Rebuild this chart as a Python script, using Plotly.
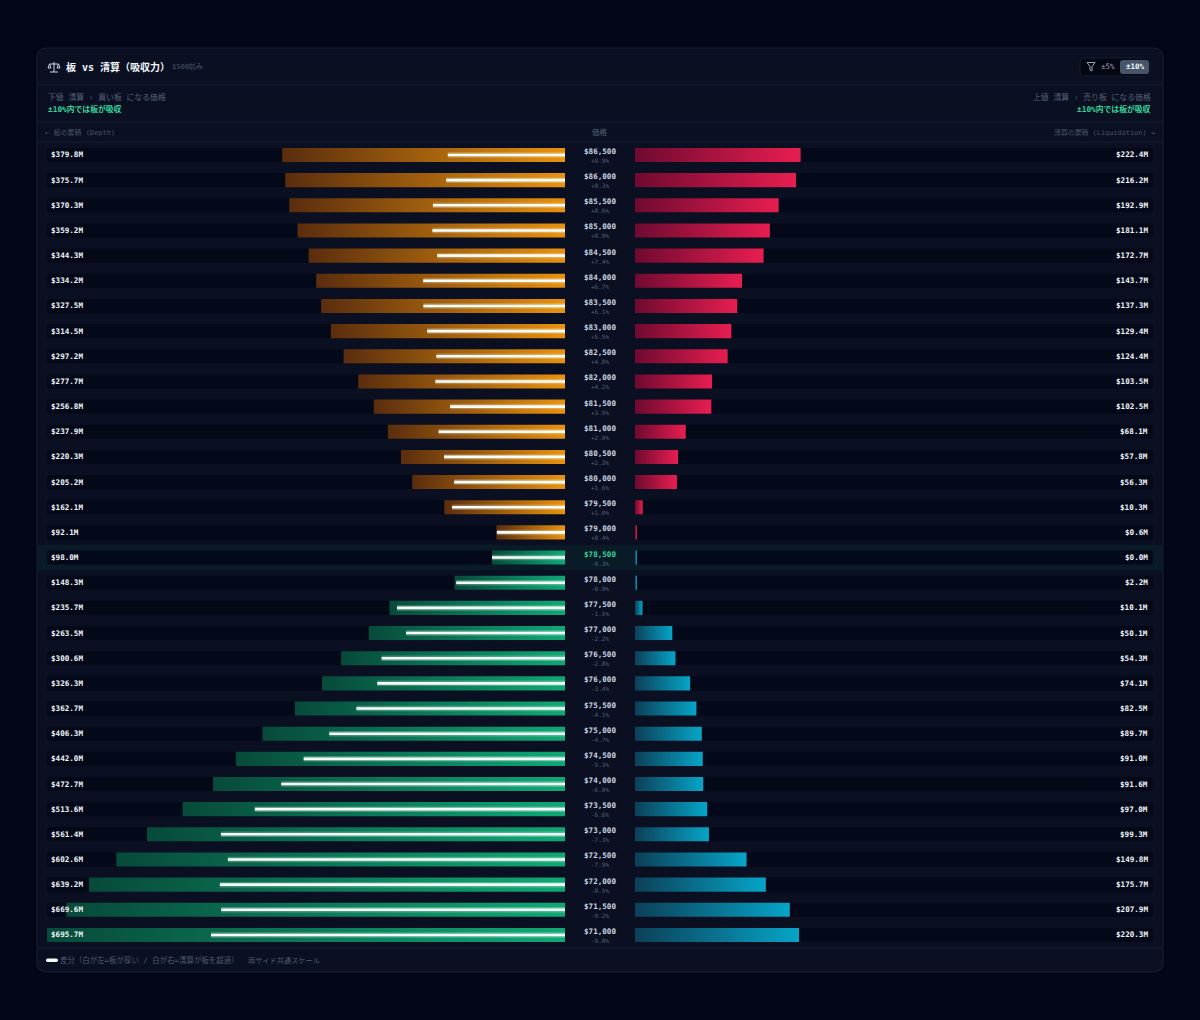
import plotly.graph_objects as go

# data ($M cumulative per price level)
prices = [86500, 86000, 85500, 85000, 84500, 84000, 83500, 83000, 82500, 82000, 81500,
          81000, 80500, 80000, 79500, 79000, 78500, 78000, 77500, 77000, 76500, 76000,
          75500, 75000, 74500, 74000, 73500, 73000, 72500, 72000, 71500, 71000]
pct = ["+9.9%", "+9.3%", "+8.6%", "+8.0%", "+7.4%", "+6.7%", "+6.1%", "+5.5%", "+4.8%", "+4.2%", "+3.5%",
       "+2.9%", "+2.3%", "+1.6%", "+1.0%", "+0.4%", "-0.3%", "-0.9%", "-1.5%", "-2.2%", "-2.8%", "-3.4%",
       "-4.1%", "-4.7%", "-5.3%", "-6.0%", "-6.6%", "-7.3%", "-7.9%", "-8.5%", "-9.2%", "-9.8%"]
depth = [379.8, 375.7, 370.3, 359.2, 344.3, 334.2, 327.5, 314.5, 297.2, 277.7, 256.8,
         237.9, 220.3, 205.2, 162.1, 92.1, 98.0, 148.3, 235.7, 263.5, 300.6, 326.3,
         362.7, 406.3, 442.0, 472.7, 513.6, 561.4, 602.6, 639.2, 669.6, 695.7]
liq = [222.4, 216.2, 192.9, 181.1, 172.7, 143.7, 137.3, 129.4, 124.4, 103.5, 102.5,
       68.1, 57.8, 56.3, 10.3, 0.6, 0.0, 2.2, 10.1, 50.1, 54.3, 74.1,
       82.5, 89.7, 91.0, 91.6, 97.0, 99.3, 149.8, 175.7, 207.9, 220.3]
current_price = 78500

W, H = 1200, 1020
MONO = "DejaVu Sans Mono, Noto Sans CJK JP, monospace"
CJK = "Noto Sans CJK JP, DejaVu Sans Mono, sans-serif"
PAGE = "#020617"
PANEL = "#0a1022"
TRACK = "#040919"
LINE = "#151d30"
GREY = "#566178"
GREEN_TXT = "#34d399"

ROW_PX = 25.16
TOP_PX = 155 - ROW_PX / 2
scale_max = max(depth)
half_h = 140  # half bar height in price units
min_w = 2.7   # thin bars still show about 2px


def px(x):
    return x / W


def py(y):
    return 1 - y / H


def round_rect(x0, y0, x1, y1, r):
    a, b, c, d = px(x0), px(x1), py(y0), py(y1)
    rx, ry = r / W, r / H
    return (f"M{a + rx},{c} L{b - rx},{c} Q{b},{c} {b},{c - ry} L{b},{d + ry} Q{b},{d} {b - rx},{d} "
            f"L{a + rx},{d} Q{a},{d} {a},{d + ry} L{a},{c - ry} Q{a},{c} {a + rx},{c} Z")


def box(x0, y0, x1, y1, r, fill, line=None):
    return dict(type="path", xref="paper", yref="paper", path=round_rect(x0, y0, x1, y1, r),
                fillcolor=fill, line=dict(color=line or fill, width=1 if line else 0), layer="below")


def hline(y, x0=38, x1=1162):
    return dict(type="line", xref="paper", yref="paper", x0=px(x0), x1=px(x1), y0=py(y), y1=py(y),
                line=dict(color=LINE, width=1), layer="below")


def icon(points, color, width=1):
    d = "M" + " L".join(f"{px(x)},{py(y)}" for x, y in points)
    return dict(type="path", xref="paper", yref="paper", path=d, line=dict(color=color, width=width), layer="above")


def note(x, y, text, size, color, anchor="left", family=MONO):
    return dict(xref="paper", yref="paper", x=px(x), y=py(y), text=text, showarrow=False, xanchor=anchor,
                yanchor="middle", font=dict(family=family, size=size, color=color))


def row_note(axis, x, price, text, size, color, anchor, shift=0, xshift=0):
    return dict(xref=axis, yref="y", x=x, y=price, text=text, showarrow=False, xanchor=anchor, yanchor="middle",
                yshift=shift, xshift=xshift, font=dict(family=MONO, size=size, color=color))


fig = go.Figure()

# background tracks
for axis in ["x", "x2"]:
    fig.add_trace(go.Bar(y=prices, x=[scale_max] * len(prices), orientation="h", width=half_h * 2, xaxis=axis, yaxis="y",
                         marker=dict(color=TRACK, cornerradius=2, line=dict(width=0)), hoverinfo="skip"))

# gradient bars, one trace per row
for p, d, l in zip(prices, depth, liq):
    above = p > current_price
    left_cs = [[0, "#5a2d0e"], [1, "#e8920e"]] if above else [[0, "#074a3a"], [1, "#0fa875"]]
    right_cs = [[0, "#6f0a30"], [1, "#e81e50"]] if above else [[0, "#0c4058"], [1, "#06a5c8"]]
    ys = [p - half_h, p - half_h, p + half_h, p + half_h, p - half_h]
    fig.add_trace(go.Scatter(x=[0, d, d, 0, 0], y=ys, xaxis="x", yaxis="y", mode="lines", line=dict(width=0),
                             fill="toself", fillgradient=dict(type="horizontal", colorscale=left_cs),
                             name=f"{p} depth", hovertemplate=f"${d}M<extra></extra>"))
    w = max(l, min_w)
    fig.add_trace(go.Scatter(x=[0, w, w, 0, 0], y=ys, xaxis="x2", yaxis="y", mode="lines", line=dict(width=0),
                             fill="toself", fillgradient=dict(type="horizontal", colorscale=right_cs),
                             name=f"{p} liq", hovertemplate=f"${l}M<extra></extra>"))

# white difference line (depth minus liquidation)
diff_x, diff_y = [], []
for p, d, l in zip(prices, depth, liq):
    diff_x += [0, d - l, None]
    diff_y += [p, p, None]
fig.add_trace(go.Scatter(x=diff_x, y=diff_y, xaxis="x", yaxis="y", mode="lines", hoverinfo="skip",
                         line=dict(color="rgba(255,255,255,0.25)", width=5.5)))
fig.add_trace(go.Scatter(x=diff_x, y=diff_y, xaxis="x", yaxis="y", mode="lines", hoverinfo="skip",
                         line=dict(color="#f4fff9", width=2.6)))

shapes = [
    box(37, 48, 1163, 972, 10, PANEL, "#182135"),
    hline(85), hline(122), hline(142), hline(948),
    dict(type="rect", xref="paper", yref="y", x0=px(38), x1=px(1162),
         y0=current_price - 250, y1=current_price + 250, fillcolor="rgba(16,185,129,0.07)",
         line=dict(width=0), layer="below"),
    box(1080, 58, 1150, 76, 5, "#030714", "#141c2e"),
    box(1120, 60, 1149, 74, 3, "#475569"),
    box(46, 958.5, 58, 962, 1.7, "#f4fff9"),
    # funnel
    icon([(1087, 62.5), (1095, 62.5), (1092, 66.5), (1092, 71), (1090, 70), (1090, 66.5), (1087, 62.5)], "#94a3b8"),
    # balance scale
    icon([(54, 62), (54, 72)], "#cbd5e1"),
    icon([(50, 72), (58, 72)], "#cbd5e1"),
    icon([(49.5, 64), (58.5, 64)], "#cbd5e1"),
    icon([(49.5, 64), (48, 68), (51, 68), (49.5, 64)], "#cbd5e1"),
    icon([(58.5, 64), (57, 68), (60, 68), (58.5, 64)], "#cbd5e1"),
]

annotations = [
    note(64, 67, "<b>板 vs 清算（吸収力）</b>", 10, "#f1f5f9"),
    note(170, 67, "$500刻み", 7, "#475569"),
    note(1108, 67, "±5%", 7.5, "#94a3b8", "center"),
    note(1135, 67, "<b>±10%</b>", 7.5, "#f1f5f9", "center"),
    note(46, 96.5, "下値 清算 › 買い板 になる価格", 7.85, GREY),
    note(46, 109, "<b>±10%内では板が吸収</b>", 7.8, GREEN_TXT),
    note(1153, 96.5, "上値 清算 › 売り板 になる価格", 7.85, GREY, "right"),
    note(1153, 109, "<b>±10%内では板が吸収</b>", 7.8, GREEN_TXT, "right"),
    note(43, 133, "← 板の累積 (Depth)", 7, "#475569"),
    note(600, 132, "価格", 7.5, GREY, "center", CJK),
    note(1157, 133, "清算の累積 (Liquidation) →", 6.9, "#475569", "right"),
    note(58, 960, "差分（白が左=板が厚い / 白が右=清算が板を超過）", 7.45, "#4f5b72"),
    note(246, 960, "両サイド共通スケール", 7.2, "#4f5b72"),
]

for p, t, d, l in zip(prices, pct, depth, liq):
    price_color = GREEN_TXT if p == current_price else "#cbd5e1"
    annotations.append(row_note("x", scale_max, p, f"<b>${d:.1f}M</b>", 7.6, "#f1f5f9", "left", xshift=2))
    annotations.append(row_note("x2", scale_max, p, f"<b>${l:.1f}M</b>", 7.6, "#f1f5f9", "right", xshift=-3))
    annotations.append(row_note("x3", 0.5, p, f"<b>${p:,}</b>", 7.6, price_color, "center", shift=3.5))
    annotations.append(row_note("x3", 0.5, p, t, 6, "#55617a", "center", shift=-5.5))

fig.update_layout(
    width=W, height=H, margin=dict(l=0, r=0, t=0, b=0), autosize=False,
    paper_bgcolor=PAGE, plot_bgcolor="rgba(0,0,0,0)", showlegend=False, barmode="overlay",
    xaxis=dict(domain=[px(47), px(565)], range=[scale_max, 0], visible=False, anchor="y", fixedrange=True),
    xaxis2=dict(domain=[px(635), px(1153)], range=[0, scale_max], visible=False, anchor="y", fixedrange=True),
    xaxis3=dict(domain=[px(565), px(635)], range=[0, 1], visible=False, anchor="y", fixedrange=True),
    yaxis=dict(domain=[py(TOP_PX + ROW_PX * len(prices)), py(TOP_PX)],
               range=[prices[-1] - 250, prices[0] + 250], visible=False, fixedrange=True),
    shapes=shapes, annotations=annotations,
)

fig.write_html("out.html", config=dict(displayModeBar=False),
               post_script=f"document.body.style.margin='0';document.body.style.background='{PAGE}';")
